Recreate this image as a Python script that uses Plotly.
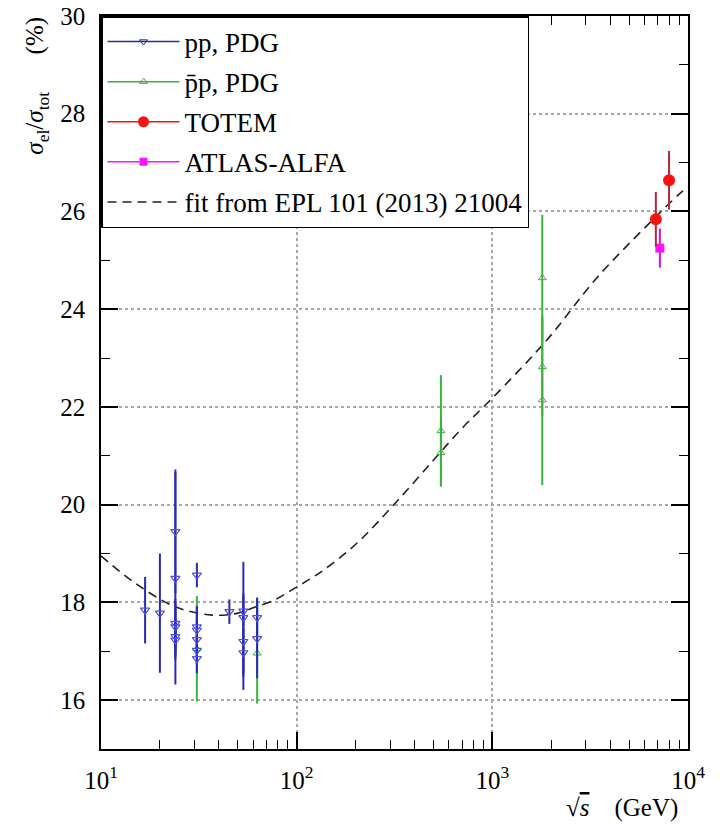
import plotly.graph_objects as go

# ---------------- data ----------------
pp_x = [16.8, 20.0, 24.0, 24.0, 24.0, 24.0, 24.0, 24.0,
        30.9, 30.9, 30.9, 30.9, 30.9, 30.9, 45.3, 53.4, 53.4, 53.4, 53.4, 62.8, 62.8]
pp_y = [17.84, 17.78, 19.45, 18.49, 17.57, 17.50, 17.30, 17.23,
        18.56, 17.50, 17.43, 17.24, 17.02, 16.85, 17.81, 17.82, 17.69, 17.20, 16.97, 17.69, 17.26]
pp_err = [0.68, 1.22, 1.27, 2.17, 0.50, 0.50, 0.40, 0.40,
          0.25, 0.40, 0.50, 0.40, 0.30, 0.30, 0.25, 0.30, 1.14, 0.99, 0.50, 0.41, 0.81]

ppbar_x = [30.9, 62.8, 546, 546, 1800, 1800, 1800]
ppbar_y = [17.05, 16.96, 21.51, 21.06, 24.64, 22.82, 22.14]
ppbar_err = [1.08, 1.03, 1.14, 0.68, 1.29, 1.00, 1.74]

totem_x = [6850, 8000]
totem_y = [25.84, 26.64]
totem_err = [0.56, 0.60]

atlas_x = [7180]
atlas_y = [25.25]
atlas_err = [0.40]

fit_x = [10, 15, 24, 37, 50, 61, 78, 94, 115, 137, 203, 324, 500, 710,
         1000, 1900, 3400, 6100, 9100, 10000]
fit_y = [18.95, 18.39, 17.91, 17.74, 17.78, 17.90, 18.06, 18.25, 18.46, 18.66,
         19.21, 20.06, 20.91, 21.59, 22.18, 23.37, 24.63, 25.69, 26.37, 26.50]

x_tickvals = [10, 100, 1000, 10000]
x_ticktext = ["10<sup>1</sup>", "10<sup>2</sup>", "10<sup>3</sup>", "10<sup>4</sup>"]
y_tickvals = [16, 18, 20, 22, 24, 26, 28, 30]

# ---------------- styles ----------------
BLUE = "#2a2ab0"
GREEN = "#3cb43c"
RED = "#ff1010"
DARKRED = "#b02838"
MAGENTA = "#ff10ff"
FONT = "Liberation Serif"

fig = go.Figure()

fig.add_trace(go.Scatter(
    x=fit_x, y=fit_y, mode="lines", line=dict(color="#222222", width=1.6, dash="9px,6px", shape="spline"),
    showlegend=False, hoverinfo="skip"))

fig.add_trace(go.Scatter(
    x=ppbar_x, y=ppbar_y, mode="markers",
    marker=dict(symbol="triangle-up-open", size=7, color=GREEN, line=dict(width=1)),
    error_y=dict(type="data", array=ppbar_err, color=GREEN, thickness=2, width=0),
    showlegend=False))

fig.add_trace(go.Scatter(
    x=pp_x, y=pp_y, mode="markers",
    marker=dict(symbol="triangle-down-open", size=8, color="#5050e0", line=dict(width=1.2)),
    error_y=dict(type="data", array=pp_err, color=BLUE, thickness=2, width=0),
    showlegend=False))

fig.add_trace(go.Scatter(
    x=atlas_x, y=atlas_y, mode="markers",
    marker=dict(symbol="square", size=9, color=MAGENTA),
    error_y=dict(type="data", array=atlas_err, color="#d010d0", thickness=2, width=0),
    showlegend=False))

fig.add_trace(go.Scatter(
    x=totem_x, y=totem_y, mode="markers",
    marker=dict(symbol="circle", size=12, color=RED),
    error_y=dict(type="data", array=totem_err, color=DARKRED, thickness=2, width=0),
    showlegend=False))

# legend entries
legend_items = [
    ("pp, PDG", BLUE, "triangle-down-open", 7),
    ("p̄p, PDG", GREEN, "triangle-up-open", 7),
    ("TOTEM", RED, "circle", 11),
    ("ATLAS-ALFA", MAGENTA, "square", 8),
]
for i, (name, col, sym, sz) in enumerate(legend_items):
    fig.add_trace(go.Scatter(
        x=[None], y=[None], mode="lines+markers", name=name, legendgroup=f"g{i}",
        line=dict(color=col, width=1.5), marker=dict(symbol=sym, size=sz, color=col)))
fig.add_trace(go.Scatter(
    x=[None], y=[None], mode="lines", name="fit from EPL 101 (2013) 21004", legendgroup="g5",
    line=dict(color="#222222", width=1.6, dash="9px,6px")))

axis_common = dict(
    showline=True, linecolor="black", linewidth=1.5, mirror="ticks",
    ticks="inside", tickcolor="black", tickwidth=1.5, ticklen=17,
    showgrid=True, gridcolor="#a8a8a8", griddash="dot", gridwidth=1.5,
    zeroline=False, automargin=False,
    tickfont=dict(family=FONT, size=25, color="black"),
)

fig.update_xaxes(
    type="log", range=[1, 4], tickvals=x_tickvals, ticktext=x_ticktext,
    minor=dict(ticks="inside", ticklen=9, tickcolor="black", tickwidth=1.3, dtick="D1", showgrid=False),
    ticklabelstandoff=8,
    **axis_common)
fig.update_yaxes(
    range=[15, 30], tickvals=y_tickvals,
    minor=dict(ticks="inside", ticklen=9, tickcolor="black", tickwidth=1.3, dtick=1, showgrid=False),
    ticklabelstandoff=9,
    **axis_common)

fig.update_layout(
    width=720, height=824,
    margin=dict(l=101, r=32, t=16, b=75, autoexpand=False),
    plot_bgcolor="white", paper_bgcolor="white",
    font=dict(family=FONT, size=24, color="black"),
    legend=dict(x=0, y=1, xanchor="left", yanchor="top",
                bgcolor="white", bordercolor="black", borderwidth=1.5,
                font=dict(family=FONT, size=27, color="black"),
                tracegroupgap=2, itemwidth=72),
    annotations=[
        dict(text="<i>σ</i><sub>el</sub>/<i>σ</i><sub>tot</sub>      (%)", textangle=-90,
             xref="paper", yref="paper", x=-0.109, y=0.905, xanchor="center", yanchor="middle",
             showarrow=False, font=dict(family=FONT, size=25, color="black")),
        dict(text="√<span style='text-decoration:overline'><i>s</i></span>    (GeV)",
             xref="paper", yref="paper", x=0.888, y=-0.080, xanchor="center", yanchor="middle",
             showarrow=False, font=dict(family=FONT, size=25, color="black")),
    ],
)

fig.write_html("out.html", config={"displayModeBar": False},
               post_script="document.body.style.margin='0';")
